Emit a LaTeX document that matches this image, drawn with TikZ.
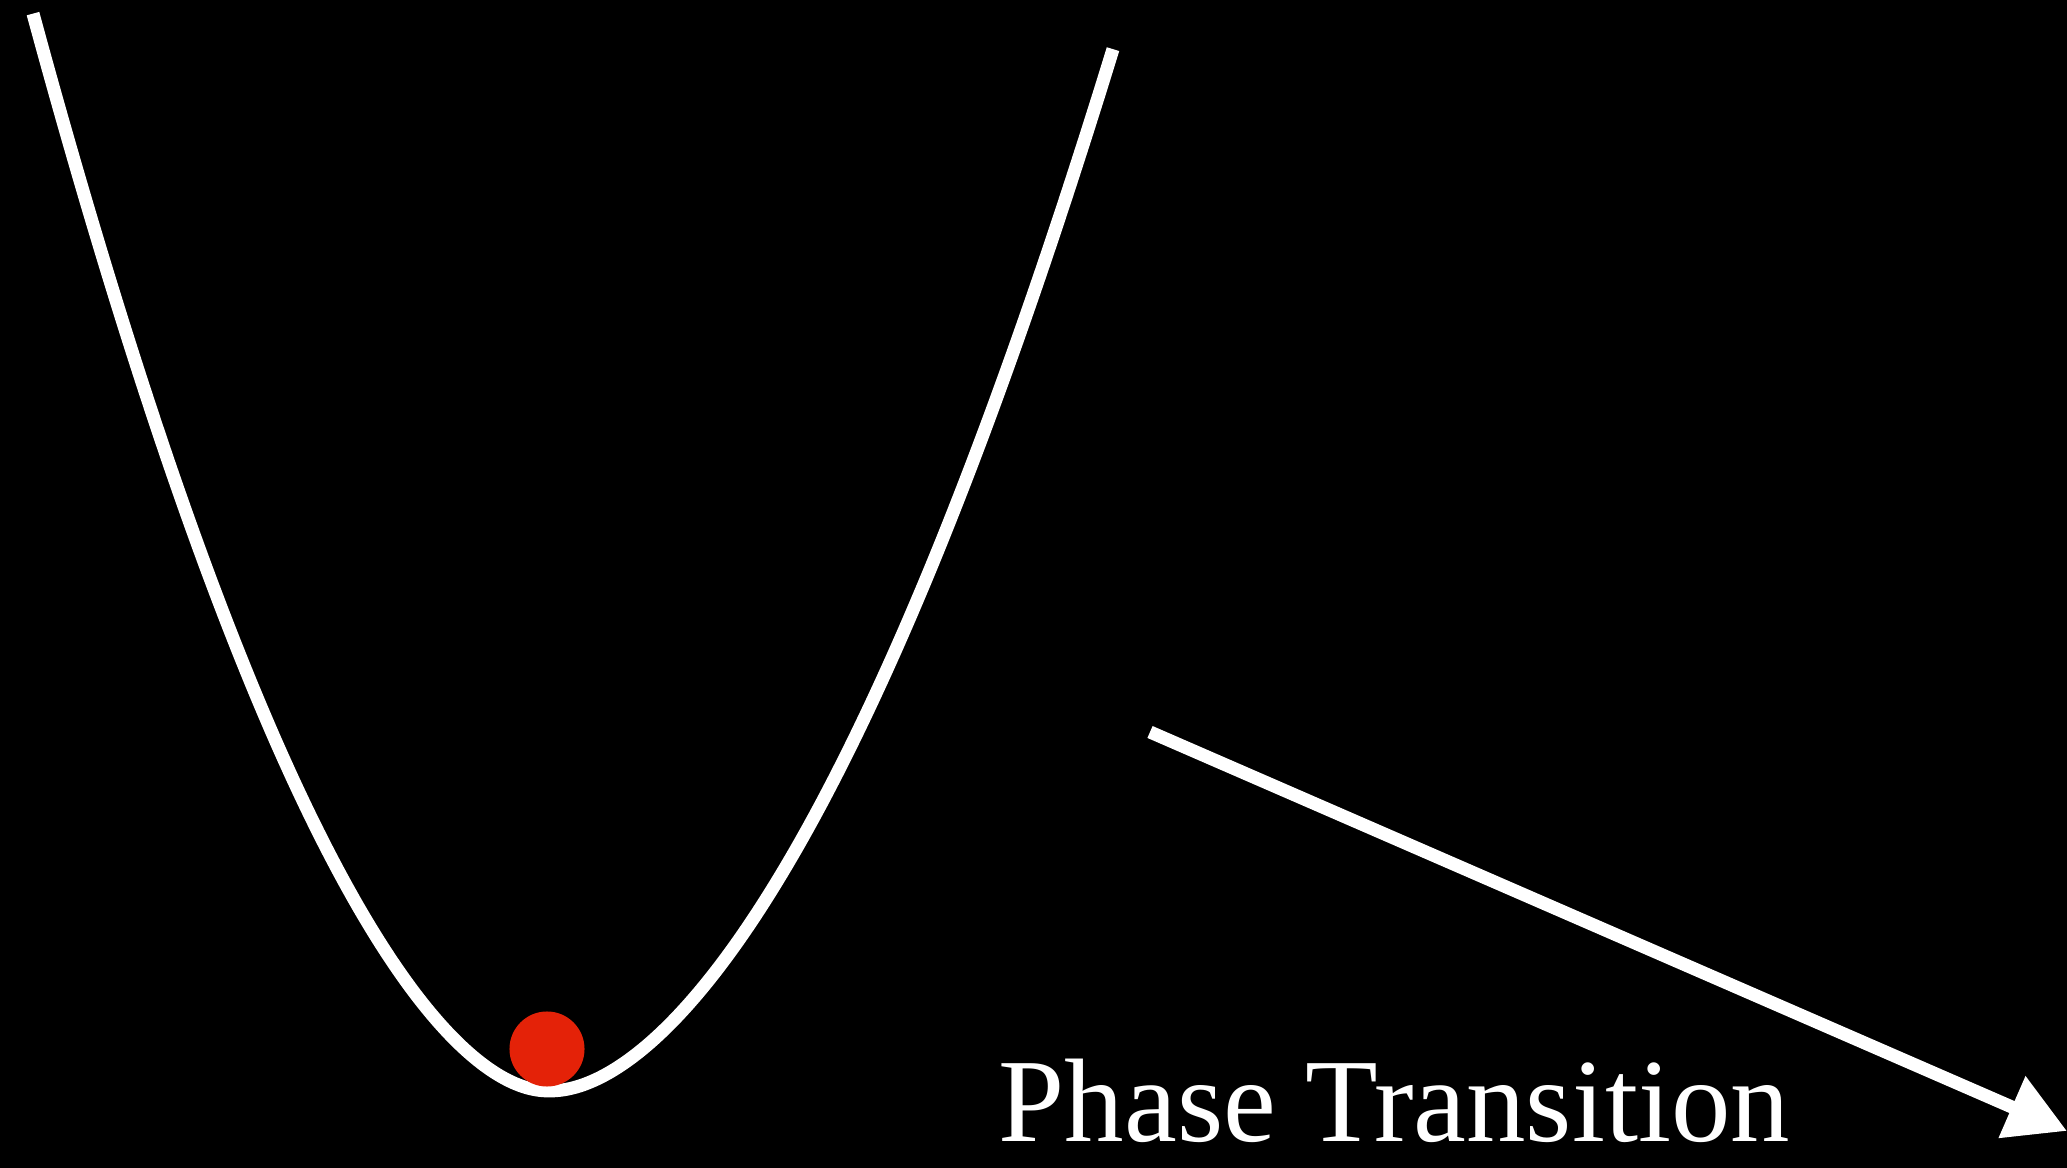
\documentclass[tikz,border=0pt]{standalone}
\usepackage{fontspec}
\setmainfont{Liberation Serif}
\usepackage{tikz}
\usetikzlibrary{arrows.meta, positioning}
\definecolor{ballred}{RGB}{228,34,8}

\begin{document}
\begin{tikzpicture}[
    x=0.01cm, y=-0.01cm,
    well/.style={draw=white, line width=0.13cm},
    ball/.style={circle, fill=ballred, minimum size=0.75cm, inner sep=0pt},
    arr/.style={-{Triangle[length=0.6cm, width=0.64cm]}, draw=white, line width=0.13cm},
    label/.style={text=white, font=\fontsize{33.8}{40}\selectfont, inner sep=0pt},
]
\fill[black] (0,0) rectangle (2067,1168);
\useasboundingbox (0,0) rectangle (2067,1168);

% potential well
\draw[well] plot[smooth, domain=-516:564, samples=160]
    ({\x+549}, {1091 - (((\x/100)^2 + 0.16)^0.877 - 0.2005)*(\x<0 ? 60.96 : 50.4)});
\node[ball] (marble) at (547,1049) {};

% transition arrow
\coordinate (arrstart) at (1150,732);
\coordinate (arrend) at (2067,1131);
\draw[arr] (arrstart) -- (arrend);
\node[label, anchor=base west] (phase) at (998,1141) {Phase Transition};
\end{tikzpicture}
\end{document}
